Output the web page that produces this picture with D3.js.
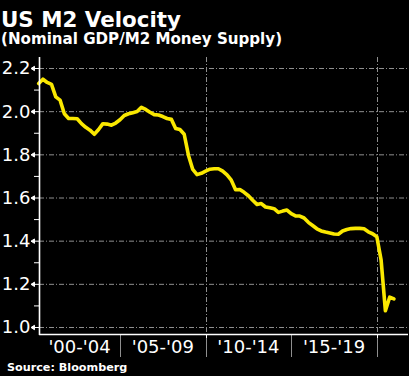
<!DOCTYPE html>
<html><head><meta charset="utf-8">
<script src="https://cdn.jsdelivr.net/npm/d3@7"></script>
<style>html,body{margin:0;padding:0;background:#000;}svg{display:block;}</style>
</head><body>
<script>
// ---- data ----
const title = "US M2 Velocity";
const subtitle = "(Nominal GDP/M2 Money Supply)";
const source = "Source: Bloomberg";
const startYear = 2000;          // first quarter: 2000 Q1
const velocity = [
 2.128,2.148,2.133,2.124, 2.066,2.051,1.988,1.966, 1.966,1.965,1.942,1.925, 1.912,1.893,1.915,1.942,
 1.940,1.935,1.945,1.960, 1.980,1.988,1.993,1.998, 2.018,2.008,1.995,1.984, 1.982,1.975,1.966,1.962,
 1.920,1.915,1.893,1.795, 1.730,1.706,1.712,1.722, 1.731,1.733,1.733,1.722, 1.705,1.680,1.636,1.637,
 1.624,1.608,1.587,1.568, 1.572,1.556,1.552,1.548, 1.531,1.537,1.542,1.525, 1.515,1.514,1.505,1.485,
 1.470,1.455,1.445,1.440, 1.436,1.431,1.430,1.445, 1.452,1.456,1.457,1.457, 1.455,1.441,1.432,1.418,
 1.310,1.075,1.138,1.130
];
const yMajor = [1.0,1.2,1.4,1.6,1.8,2.0,2.2];
const yMinor = [1.1,1.3,1.5,1.7,1.9,2.1];
const periodLabels = ["'00-'04","'05-'09","'10-'14","'15-'19"];
const periodStarts = [2000,2005,2010,2015];
const periodBounds = [2005,2010,2015,2020];
const gridYears = [2010,2020];

// ---- layout ----
const W=409,H=376;
const pL=39,pR=408,pT=57,pB=334;
const svg=d3.select("body").append("svg").attr("width",W).attr("height",H);
svg.append("rect").attr("width",W).attr("height",H).attr("fill","#000");

const x=d3.scaleLinear().domain([2000.27,2021.82]).range([pL,pR]);
const y=d3.scaleLinear().domain([1.0,2.2]).range([327,68]);

const font="DejaVu Sans, Verdana, sans-serif";
const grid="#8f8f8f";

// titles
svg.append("text").attr("x",1).attr("y",27).attr("fill","#fff")
  .attr("font-family",font).attr("font-weight","bold").attr("font-size",21.4).text(title);
svg.append("text").attr("x",1).attr("y",44).attr("fill","#fff")
  .attr("font-family",font).attr("font-weight","bold").attr("font-size",15.1).text(subtitle);
svg.append("text").attr("x",7).attr("y",371).attr("fill","#fff")
  .attr("font-family",font).attr("font-weight","bold").attr("font-size",11.2).text(source);

// horizontal gridlines
svg.append("g").selectAll("line").data(yMajor).join("line")
  .attr("x1",pL).attr("x2",pR).attr("y1",d=>y(d)+0.5).attr("y2",d=>y(d)+0.5)
  .attr("stroke",grid).attr("stroke-width",1).attr("stroke-dasharray","5,2,1,2");
// vertical gridlines
svg.append("g").selectAll("line").data(gridYears).join("line")
  .attr("x1",d=>Math.round(x(d))+0.5).attr("x2",d=>Math.round(x(d))+0.5).attr("y1",pT).attr("y2",pB)
  .attr("stroke",grid).attr("stroke-width",1).attr("stroke-dasharray","5,2,1,2");

// period separators below axis
svg.append("g").selectAll("line").data(periodBounds).join("line")
  .attr("x1",d=>Math.round(x(d))+0.5).attr("x2",d=>Math.round(x(d))+0.5).attr("y1",pB).attr("y2",357)
  .attr("stroke",grid).attr("stroke-width",1);
svg.append("g").selectAll("line").data(gridYears).join("line")
  .attr("x1",d=>Math.round(x(d))+0.5).attr("x2",d=>Math.round(x(d))+0.5).attr("y1",pB).attr("y2",pB+4)
  .attr("stroke","#fff").attr("stroke-width",1);

// period labels centred in visible span
svg.append("g").selectAll("text").data(periodLabels).join("text")
  .attr("x",(d,i)=>(Math.max(pL,x(periodStarts[i]))+x(periodBounds[i]))/2)
  .attr("y",353).attr("text-anchor","middle").attr("fill","#fff")
  .attr("font-family",font).attr("font-size",18).text(d=>d);

// the line
const line=d3.line().x((d,i)=>x(startYear+0.25+0.25*i)).y(d=>y(d));
svg.append("path").datum(velocity).attr("d",line).attr("fill","none")
  .attr("stroke","#fae800").attr("stroke-width",3.6).attr("stroke-linejoin","round").attr("stroke-linecap","round");

// axes lines
svg.append("line").attr("x1",pL+0.5).attr("x2",pL+0.5).attr("y1",pT).attr("y2",pB+1)
  .attr("stroke","#fff").attr("stroke-width",1.6);
svg.append("line").attr("x1",pL).attr("x2",pR).attr("y1",pB+0.5).attr("y2",pB+0.5)
  .attr("stroke","#fff").attr("stroke-width",1.6);

// y ticks
const tk=svg.append("g");
tk.selectAll("path").data(yMajor).join("path")
  .attr("d",d=>{const yy=y(d)+0.5;return `M31,${yy}L34.5,${yy-2.2}L34.5,${yy+2.2}Z M34.5,${yy}L${pL},${yy}`;})
  .attr("fill","#fff").attr("stroke","#fff").attr("stroke-width",1);
tk.selectAll("line").data(yMinor).join("line")
  .attr("x1",34).attr("x2",pL).attr("y1",d=>y(d)+0.5).attr("y2",d=>y(d)+0.5)
  .attr("stroke","#fff").attr("stroke-width",1);
tk.selectAll("text").data(yMajor).join("text")
  .attr("x",30.5).attr("y",d=>y(d)).attr("dy","0.36em").attr("text-anchor","end")
  .attr("fill","#fff").attr("font-family",font).attr("font-size",18).text(d=>d.toFixed(1));
</script>
</body></html>
